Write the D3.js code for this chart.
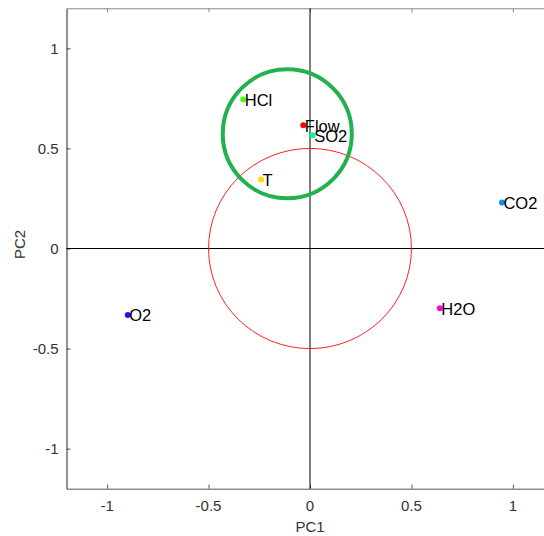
<!DOCTYPE html>
<html>
<head>
<meta charset="utf-8">
<script src="https://cdn.jsdelivr.net/npm/d3@7"></script>
<style>
  html, body { margin: 0; padding: 0; background: #fff; }
  svg { display: block; font-family: "Liberation Sans", Arial, sans-serif; }
</style>
</head>
<body>
<svg id="chart" width="544" height="536"></svg>
<script>
// PCA loadings of the process variables
const variables = ["Flow", "T", "HCl", "SO2", "CO2", "O2", "H2O"];
const pc1 = [-0.033, -0.241, -0.329, 0.013, 0.946, -0.898, 0.640];
const pc2 = [0.616, 0.345, 0.744, 0.566, 0.230, -0.332, -0.298];
const pointColors = ["#ff0000", "#ffdb00", "#49ff00", "#00ff92", "#0092ff", "#4900ff", "#ff00db"];

// axis ticks
const tickValues = [-1, -0.5, 0, 0.5, 1];
const tickLabels = ["-1", "-0.5", "0", "0.5", "1"];

// reference circle (radius 0.5) and highlighted cluster
const refCircle = { cx: 0, cy: 0, r: 0.5 };
const cluster = { cx: -0.112, cy: 0.573, r: 0.318 };

const svg = d3.select("#chart");
const plotLeft = 66.5, plotRight = 553.5, plotTop = 8.3, plotBottom = 488.7;

const x = d3.scaleLinear().domain([-1.2, 1.2]).range([plotLeft, plotRight]);
const y = d3.scaleLinear().domain([-1.2, 1.2]).range([plotBottom, plotTop]);

const fmt = d => tickLabels[tickValues.indexOf(d)];

// top border with inward ticks
svg.append("g")
  .attr("transform", `translate(0,${plotTop})`)
  .call(d3.axisBottom(x).tickValues(tickValues).tickSize(4).tickSizeOuter(0).tickFormat(""))
  .call(g => g.select(".domain").attr("stroke", "#888"))
  .call(g => g.selectAll(".tick line").attr("stroke", "#888"));

// bottom axis
svg.append("g")
  .attr("transform", `translate(0,${plotBottom})`)
  .call(d3.axisTop(x).tickValues(tickValues).tickSize(4).tickSizeOuter(0).tickFormat(""))
  .call(g => g.select(".domain").attr("stroke", "#555"))
  .call(g => g.selectAll(".tick line").attr("stroke", "#555"));

svg.append("g").selectAll("text").data(tickValues).join("text")
  .attr("x", d => x(d)).attr("y", 510.5)
  .attr("text-anchor", "middle")
  .attr("font-size", 15).attr("fill", "#333")
  .text(fmt);

// left axis
svg.append("g")
  .attr("transform", `translate(${plotLeft},0)`)
  .call(d3.axisRight(y).tickValues(tickValues).tickSize(4).tickSizeOuter(0).tickFormat(""))
  .call(g => g.select(".domain").attr("stroke", "#222"))
  .call(g => g.selectAll(".tick line").attr("stroke", "#444"));

svg.append("g").selectAll("text").data(tickValues).join("text")
  .attr("x", 58.5).attr("y", d => y(d) + 5.3)
  .attr("text-anchor", "end")
  .attr("font-size", 15).attr("fill", "#333")
  .text(fmt);

// axis titles
svg.append("text")
  .attr("x", x(0)).attr("y", 531.5)
  .attr("text-anchor", "middle").attr("font-size", 15).attr("fill", "#333")
  .text("PC1");
svg.append("text")
  .attr("transform", `translate(25,${y(0) - 4}) rotate(-90)`)
  .attr("text-anchor", "middle").attr("font-size", 15).attr("fill", "#333")
  .text("PC2");

// zero lines
svg.append("line")
  .attr("x1", plotLeft).attr("x2", plotRight).attr("y1", y(0)).attr("y2", y(0))
  .attr("stroke", "#000").attr("stroke-width", 1);
svg.append("line")
  .attr("x1", x(0)).attr("x2", x(0)).attr("y1", plotTop).attr("y2", plotBottom)
  .attr("stroke", "#000").attr("stroke-width", 1);

// reference circle
svg.append("ellipse")
  .attr("cx", x(refCircle.cx)).attr("cy", y(refCircle.cy))
  .attr("rx", x(refCircle.r) - x(0)).attr("ry", y(0) - y(refCircle.r))
  .attr("fill", "none").attr("stroke", "#ff2020").attr("stroke-width", 1);

// cluster highlight
svg.append("circle")
  .attr("cx", x(cluster.cx)).attr("cy", y(cluster.cy))
  .attr("r", x(cluster.r) - x(0))
  .attr("fill", "none").attr("stroke", "#22b14c").attr("stroke-width", 4);

// loading points and labels
const pts = variables.map((v, i) => ({ name: v, px: pc1[i], py: pc2[i], color: pointColors[i] }));

svg.append("g").selectAll("circle").data(pts).join("circle")
  .attr("cx", d => x(d.px)).attr("cy", d => y(d.py))
  .attr("r", 3).attr("fill", d => d.color);

svg.append("g").selectAll("text").data(pts).join("text")
  .attr("x", d => x(d.px) + 1.5).attr("y", d => y(d.py) + 6.5)
  .attr("font-size", 16.5).attr("fill", "#000")
  .text(d => d.name);
</script>
</body>
</html>
